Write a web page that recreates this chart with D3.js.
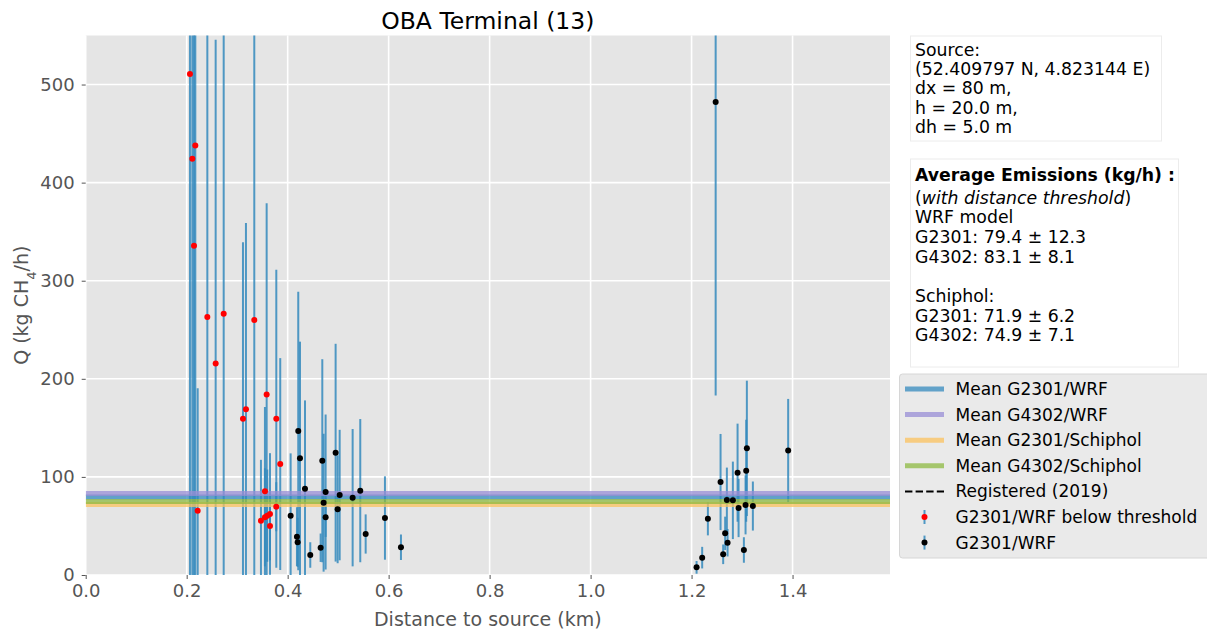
<!DOCTYPE html>
<html>
<head>
<meta charset="utf-8">
<script src="https://cdn.jsdelivr.net/npm/d3@7"></script>
<style>
  html, body { margin: 0; padding: 0; background: #ffffff; }
  svg { display: block; }
  text { font-family: "DejaVu Sans", sans-serif; }
</style>
</head>
<body>
<svg id="chart" width="1207" height="631"></svg>
<script>
// Inversions flagged as below the distance threshold (red markers)
const belowDist = [0.2065, 0.2171, 0.2112, 0.2145, 0.2409, 0.2733, 0.2574, 0.3339, 0.3584, 0.3174, 0.3115,
                   0.3775, 0.3853, 0.3550, 0.2218, 0.3774, 0.3471, 0.3550, 0.3596, 0.3650, 0.3650];
const belowQ    = [510.7, 437.9, 424.3, 335.7, 262.9, 266.4, 215.7, 260.0, 183.9, 168.9, 159.3,
                   159.3, 113.1, 85.3, 65.5, 69.6, 55.4, 58.8, 60.5, 62.2, 50.0];
const belowErr  = [600, 520, 500, 420, 380, 400, 330, 380, 195, 190, 180,
                   152, 108, 86, 125, 25, 62, 50, 47, 62, 35];

// Inversions used in the averages (black markers)
const wrfDist = [0.4059, 0.4210, 0.4244, 0.4184, 0.4198, 0.4343, 0.4448, 0.4686, 0.4653, 0.4752, 0.4712,
                 0.4752, 0.4950, 0.5030, 0.4990, 0.5287, 0.5438, 0.5545, 0.5927, 0.6244,
                 1.2099, 1.2210, 1.2323, 1.2477, 1.2574, 1.2665, 1.2626, 1.2713, 1.2699, 1.2818,
                 1.2911, 1.2931, 1.3036, 1.3069, 1.3095, 1.3082, 1.3214, 1.3913];
const wrfQ    = [60.5, 146.8, 118.9, 39.1, 33.3, 88.0, 20.4, 116.5, 27.8, 84.6, 73.7,
                 58.8, 124.7, 81.5, 67.0, 78.8, 86.0, 41.8, 58.1, 28.3,
                 7.8, 17.7, 57.4, 482.1, 94.8, 42.5, 21.1, 32.9, 76.5, 76.1,
                 104.3, 68.3, 25.5, 71.4, 129.1, 106.3, 70.3, 126.8];
const wrfErr  = [63.5, 142, 119, 30, 25, 90, 13, 103.5, 14.5, 79, 70.3,
                 20, 111, 66.5, 55, 70, 73, 20, 42.5, 13,
                 6.5, 11, 17, 299, 49, 17, 10, 14, 33, 39.5,
                 50, 29.7, 13, 30, 69, 52, 25, 52.7];

// Mean emission rates (kg/h)
const meanLabels = ["Mean G2301/WRF", "Mean G4302/WRF", "Mean G2301/Schiphol", "Mean G4302/Schiphol"];
const meanValues = [79.4, 83.1, 71.9, 74.9];
const meanColors = ["#348ABD", "#988ED5", "#FBC15E", "#8EBA42"];

const xTicks = [0.0, 0.2, 0.4, 0.6, 0.8, 1.0, 1.2, 1.4];
const yTicks = [0, 100, 200, 300, 400, 500];

const sourceLines = ["Source:", "(52.409797 N, 4.823144 E)", "dx = 80 m,", "h = 20.0 m,", "dh = 5.0 m"];
const avgLines = ["WRF model", "G2301: 79.4 \u00b1 12.3", "G4302: 83.1 \u00b1 8.1", "",
                  "Schiphol:", "G2301: 71.9 \u00b1 6.2", "G4302: 74.9 \u00b1 7.1"];

const svg = d3.select("#chart");
const L = 85.7, R = 890, T = 35.5, B = 575;

const x = d3.scaleLinear().domain([0, 1.593]).range([L, R]);
const y = d3.scaleLinear().domain([0, 550]).range([B, T]);

// panel background
svg.append("rect").attr("x", L).attr("y", T).attr("width", R - L).attr("height", B - T).attr("fill", "#E5E5E5");

// grid
const grid = svg.append("g");
grid.selectAll("line.gx").data(xTicks).join("line")
  .attr("x1", d => x(d)).attr("x2", d => x(d)).attr("y1", T).attr("y2", B)
  .attr("stroke", "#ffffff").attr("stroke-width", 1.6);
grid.selectAll("line.gy").data(yTicks).join("line")
  .attr("x1", L).attr("x2", R).attr("y1", d => y(d)).attr("y2", d => y(d))
  .attr("stroke", "#ffffff").attr("stroke-width", 1.6);

svg.append("clipPath").attr("id", "plotclip").append("rect")
  .attr("x", L).attr("y", T).attr("width", R - L).attr("height", B - T);

const plot = svg.append("g").attr("clip-path", "url(#plotclip)");

const below = belowDist.map((d, i) => ({ d, q: belowQ[i], e: belowErr[i] }));
const wrf = wrfDist.map((d, i) => ({ d, q: wrfQ[i], e: wrfErr[i] }));

// error bars
function bars(data) {
  plot.append("g").selectAll("line").data(data).join("line")
    .attr("x1", p => x(p.d)).attr("x2", p => x(p.d))
    .attr("y1", p => y(p.q + p.e)).attr("y2", p => y(p.q - p.e))
    .attr("stroke", "#348ABD").attr("stroke-width", 2).attr("stroke-opacity", 0.85);
}
bars(below);
bars(wrf);

// mean lines
plot.append("g").selectAll("line").data(meanValues).join("line")
  .attr("x1", L).attr("x2", R).attr("y1", d => y(d)).attr("y2", d => y(d))
  .attr("stroke", (d, i) => meanColors[i]).attr("stroke-width", 5).attr("stroke-opacity", 0.75);

// markers
plot.append("g").selectAll("circle").data(below).join("circle")
  .attr("cx", p => x(p.d)).attr("cy", p => y(p.q)).attr("r", 3).attr("fill", "#ff0000");
plot.append("g").selectAll("circle").data(wrf).join("circle")
  .attr("cx", p => x(p.d)).attr("cy", p => y(p.q)).attr("r", 3).attr("fill", "#000000");

// axes
const xAxis = svg.append("g").attr("transform", `translate(0,${B})`)
  .call(d3.axisBottom(x).tickValues(xTicks).tickFormat(d3.format(".1f")).tickSize(4).tickPadding(5));
const yAxis = svg.append("g").attr("transform", `translate(${L},0)`)
  .call(d3.axisLeft(y).tickValues(yTicks).tickSize(4).tickPadding(7));
[xAxis, yAxis].forEach(a => {
  a.select(".domain").remove();
  a.selectAll(".tick line").attr("stroke", "#555555");
  a.selectAll(".tick text").attr("fill", "#555555").style("font-size", "18px")
    .style("font-family", "DejaVu Sans");
});

// titles
svg.append("text").attr("x", (L + R) / 2).attr("y", 29).attr("text-anchor", "middle")
  .style("font-size", "23.5px").attr("fill", "#000").text("OBA Terminal (13)");
svg.append("text").attr("x", (L + R) / 2).attr("y", 626).attr("text-anchor", "middle")
  .style("font-size", "19px").attr("fill", "#555555").text("Distance to source (km)");
const yl = svg.append("text").attr("transform", `translate(28,${(T + B) / 2}) rotate(-90)`)
  .attr("text-anchor", "middle").style("font-size", "19px").attr("fill", "#555555");
yl.append("tspan").text("Q  (kg CH");
yl.append("tspan").attr("baseline-shift", "sub").style("font-size", "13px").text("4");
yl.append("tspan").text("/h)");

// source info box
svg.append("rect").attr("x", 910.5).attr("y", 36).attr("width", 251).attr("height", 105)
  .attr("fill", "#ffffff").attr("stroke", "#ececec");
svg.append("g").selectAll("text").data(sourceLines).join("text")
  .attr("x", 915).attr("y", (d, i) => 56 + i * 19.2)
  .style("font-size", "17.3px").attr("fill", "#000").text(d => d);

// average emissions box
svg.append("rect").attr("x", 910.5).attr("y", 159).attr("width", 268).attr("height", 208)
  .attr("fill", "#ffffff").attr("stroke", "#ececec");
svg.append("text").attr("x", 915).attr("y", 181).style("font-size", "17.3px").style("font-weight", "bold")
  .attr("fill", "#000").text("Average Emissions (kg/h) :");
const it = svg.append("text").attr("x", 915).attr("y", 203.5).style("font-size", "17.3px").attr("fill", "#000");
it.append("tspan").text("(");
it.append("tspan").style("font-style", "italic").text("with distance threshold");
it.append("tspan").text(")");
svg.append("g").selectAll("text").data(avgLines).join("text")
  .attr("x", 915).attr("y", (d, i) => 223.2 + i * 19.7)
  .style("font-size", "17.3px").attr("fill", "#000").text(d => d);

// legend
const lg = svg.append("g");
lg.append("rect").attr("x", 899.5).attr("y", 374).attr("width", 320).attr("height", 184).attr("rx", 3)
  .attr("fill", "#EAEAEA").attr("stroke", "#D6D6D6");
const rowY = i => 389 + i * 25.6;
meanLabels.forEach((lab, i) => {
  lg.append("line").attr("x1", 905).attr("x2", 944).attr("y1", rowY(i)).attr("y2", rowY(i))
    .attr("stroke", meanColors[i]).attr("stroke-width", 5).attr("stroke-opacity", 0.75);
  lg.append("text").attr("x", 955.5).attr("y", rowY(i) + 6).style("font-size", "17px").attr("fill", "#000").text(lab);
});
lg.append("line").attr("x1", 905).attr("x2", 944).attr("y1", rowY(4)).attr("y2", rowY(4))
  .attr("stroke", "#000").attr("stroke-width", 2).attr("stroke-dasharray", "7.4,3.2");
lg.append("text").attr("x", 955.5).attr("y", rowY(4) + 6).style("font-size", "17px").attr("fill", "#000").text("Registered (2019)");
[["#ff0000", "G2301/WRF below threshold"], ["#000000", "G2301/WRF"]].forEach(([c, lab], k) => {
  const yy = rowY(5 + k);
  lg.append("line").attr("x1", 924.5).attr("x2", 924.5).attr("y1", yy - 7).attr("y2", yy + 7)
    .attr("stroke", "#348ABD").attr("stroke-width", 2).attr("stroke-opacity", 0.85);
  lg.append("circle").attr("cx", 924.5).attr("cy", yy).attr("r", 3).attr("fill", c);
  lg.append("text").attr("x", 955.5).attr("y", yy + 6).style("font-size", "17px").attr("fill", "#000").text(lab);
});
</script>
</body>
</html>
